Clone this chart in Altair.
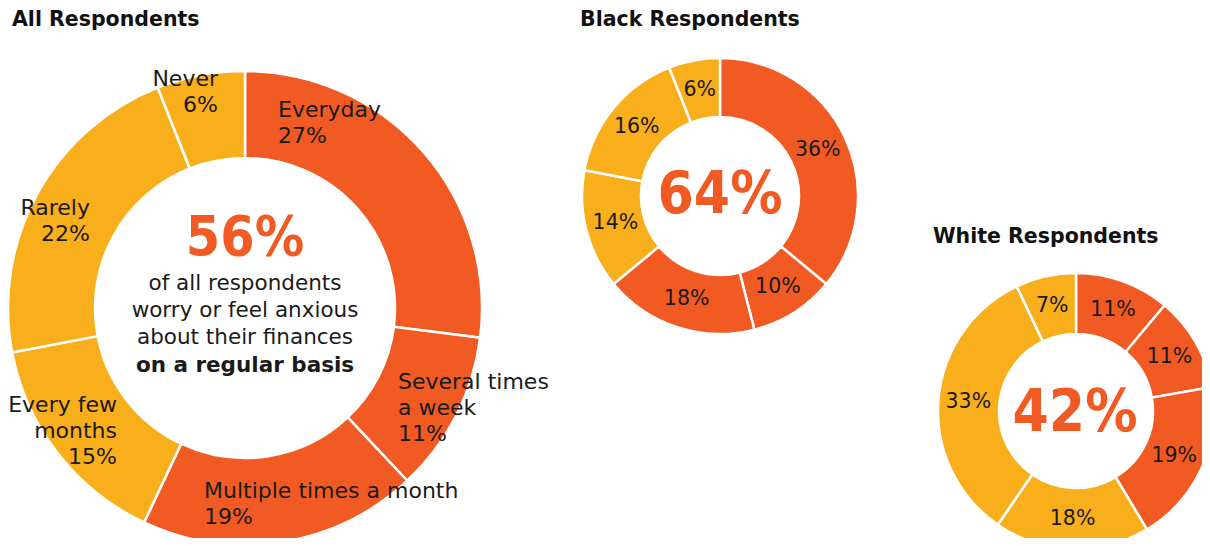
import altair as alt
import pandas as pd

# ---------------- data ----------------
categories = ["Everyday", "Several times a week", "Multiple times a month",
              "Every few months", "Rarely", "Never"]
groups = ["Regular", "Regular", "Regular", "Irregular", "Irregular", "Irregular"]
all_values = [27, 11, 19, 15, 22, 6]
black_values = [36, 10, 18, 14, 16, 6]
white_values = [11, 11, 19, 18, 33, 7]

all_label_lines = [["Everyday"], ["Several times", "a week"], ["Multiple times a month"],
                   ["Every few", "months"], ["Rarely"], ["Never"]]

headline = {"All": "56%", "Black": "64%", "White": "42%"}
center_lines = ["of all respondents", "worry or feel anxious", "about their finances"]
center_bold = "on a regular basis"

# ---------------- style ----------------
ORANGE = "#F15A22"
YELLOW = "#F9AE1C"
FONT = "DejaVu Sans"
BIG_FONT = "'DejaVu Sans Condensed', 'Liberation Sans Narrow', 'Roboto Condensed', Roboto, sans-serif"

color_scale = alt.Scale(domain=["Regular", "Irregular"], range=[ORANGE, YELLOW])


def frame(values):
    return pd.DataFrame({
        "idx": list(range(len(values))),
        "category": categories,
        "group": groups,
        "value": values,
        "label": [f"{v}%" for v in values],
    })


def donut(values, cx, cy, r_in, r_out, label_r=None, label_size=20.5):
    base = alt.Chart(frame(values)).encode(
        theta=alt.Theta("value:Q", stack=True),
        order=alt.Order("idx:Q"),
        x=alt.value(cx), y=alt.value(cy),
    )
    arcs = base.mark_arc(innerRadius=r_in, outerRadius=r_out,
                         stroke="white", strokeWidth=2.5).encode(
        color=alt.Color("group:N", scale=color_scale, legend=None))
    layers = [arcs]
    if label_r is not None:
        txt = base.mark_text(radius=label_r, font=FONT, fontSize=label_size,
                             color="#1a1a1a").encode(text="label:N")
        layers.append(txt)
    return alt.layer(*layers)


one = pd.DataFrame({"a": [0]})


def text(lines, x, y, align="center", size=20, weight="normal", color="#1a1a1a",
         font=FONT, baseline="top", line_height=26):
    return alt.Chart(one).mark_text(
        align=align, baseline=baseline, font=font, fontSize=size,
        fontWeight=weight, color=color, lineHeight=line_height,
    ).encode(x=alt.value(x), y=alt.value(y), text=alt.value(lines))


# centres/radii (chart coordinates)
all_donut = donut(all_values, 237, 300, 150, 237)
black_donut = donut(black_values, 712, 188, 79, 138, label_r=108)
white_donut = donut(white_values, 1068, 403, 77, 138, label_r=108)

# labels of the large donut
label_pos = [  # (x, y_top, align)
    (270, 92, "left"),
    (390, 364, "left"),
    (196, 473, "left"),
    (109, 387, "right"),
    (82, 190, "right"),
    (210, 61, "right"),
]
all_labels = []
for lines, v, (lx, ly, al) in zip(all_label_lines, all_values, label_pos):
    all_labels.append(text(lines + [f"{v}%"], lx, ly, align=al, size=22, line_height=26))

annotations = [
    text("All Respondents", 4, 2, align="left", size=20.5, weight="bold", color="#111"),
    text("Black Respondents", 572, 2, align="left", size=20.5, weight="bold", color="#111"),
    text("White Respondents", 925, 219, align="left", size=20.5, weight="bold", color="#111"),
    text(headline["All"], 237, 230, size=55, weight="bold", color=ORANGE,
         font=BIG_FONT, baseline="middle"),
    text(headline["Black"], 712, 188, size=58, weight="bold", color=ORANGE,
         font=BIG_FONT, baseline="middle"),
    text(headline["White"], 1067, 406, size=58, weight="bold", color=ORANGE,
         font=BIG_FONT, baseline="middle"),
    text(center_lines, 237, 265, size=21.5, line_height=27),
    text(center_bold, 237, 347, size=21.5, weight="bold"),
]

chart = alt.layer(
    all_donut, black_donut, white_donut, *all_labels, *annotations
).resolve_scale(theta="independent").properties(
    width=1194, height=530, padding=0,
    autosize=alt.AutoSizeParams(type="none"),
).configure_view(stroke=None)

chart.save("out.html", embed_options={"renderer": "svg", "actions": False})
